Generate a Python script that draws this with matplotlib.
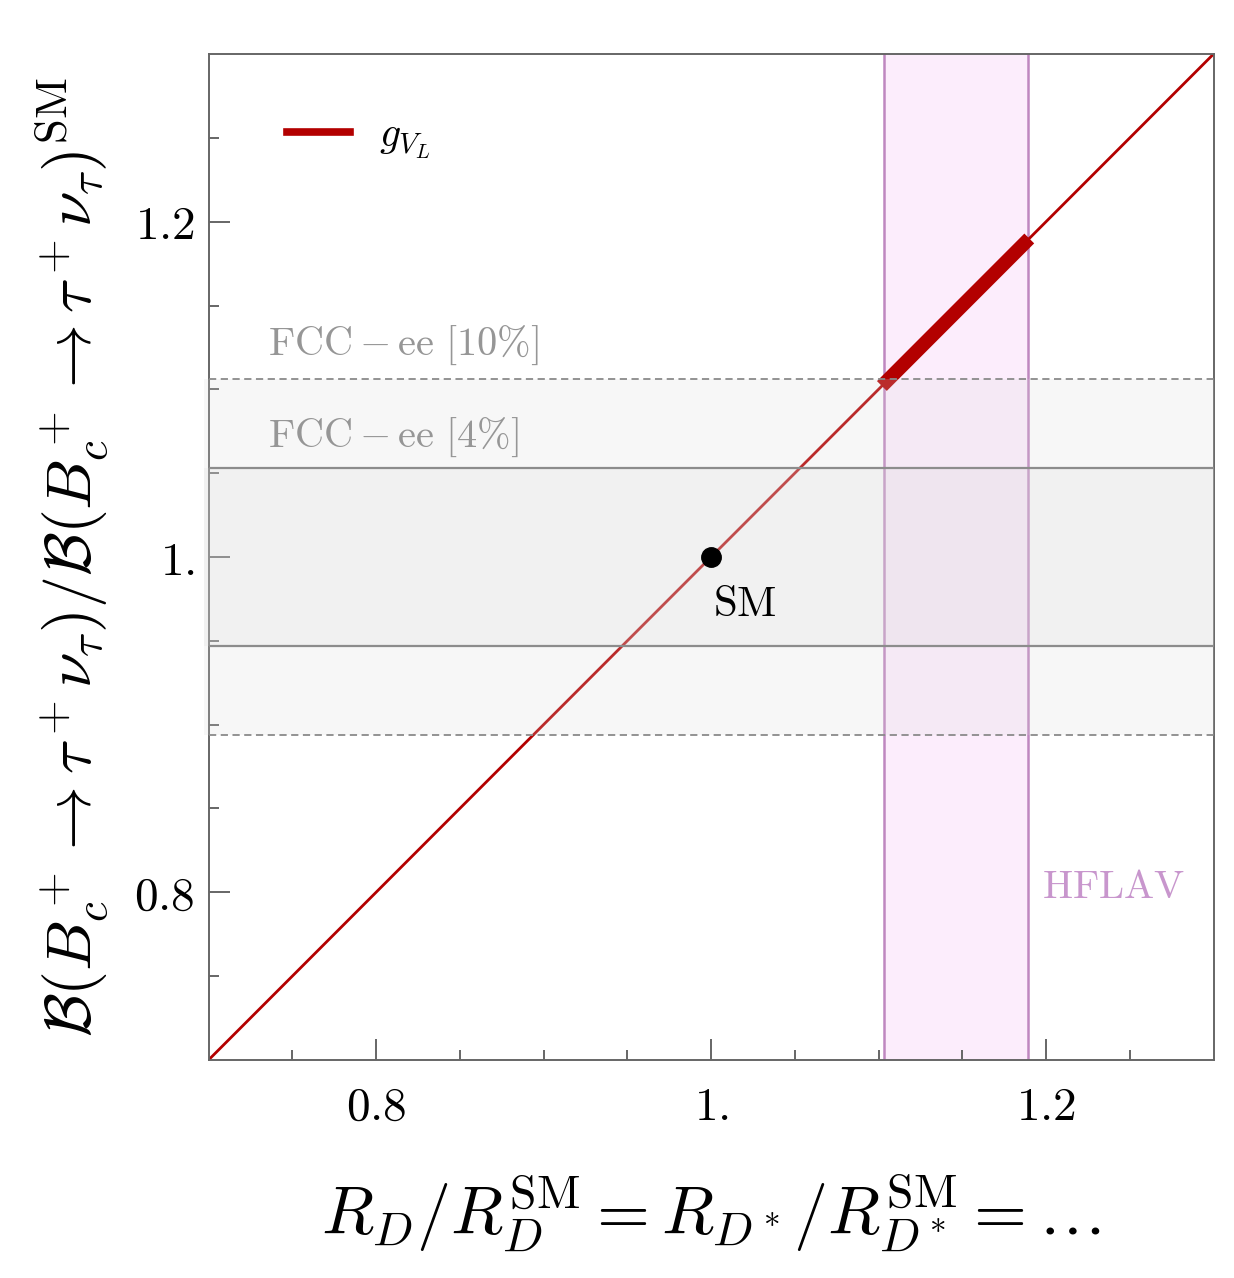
import matplotlib
matplotlib.use("Agg")
import matplotlib.pyplot as plt
from matplotlib.lines import Line2D

plt.rcParams['mathtext.fontset'] = 'cm'
plt.rcParams['font.family'] = ['DejaVu Serif']

# ---- data ----
diag_x = [0.7, 1.3]
diag_y = [0.7, 1.3]
fit_x = [1.102, 1.19]
fit_y = [1.102, 1.19]
hflav_range = [1.103, 1.189]
fcc10_range = [0.894, 1.106]
fcc4_range = [0.947, 1.053]
sm_point = (1.0, 1.0)
xticks_major = [0.8, 1.0, 1.2]
xtick_labels = ['0.8', '1.', '1.2']
yticks_major = [0.8, 1.0, 1.2]
ytick_labels = ['0.8', '1.', '1.2']
minor_ticks = [0.75, 0.85, 0.9, 0.95, 1.05, 1.1, 1.15, 1.25]

red = '#b30000'
band_col = (0.85, 0.85, 0.85)
pink_fill = '#fcedfc'
purple = '#bf87c0'

fig = plt.figure(figsize=(12.34, 12.78), dpi=100)
ax = fig.add_axes([0.169, 0.1706, 0.8144, 0.7871])
ax.set_xlim(0.7, 1.3)
ax.set_ylim(0.7, 1.3)

# HFLAV band
ax.axvspan(hflav_range[0], hflav_range[1], color=pink_fill, lw=0, zorder=1)
for v in hflav_range:
    ax.axvline(v, color=purple, lw=1.8, zorder=1.5)

# diagonal and fit segment
ax.plot(diag_x, diag_y, color=red, lw=2.0, zorder=2)
ax.plot(fit_x, fit_y, color=red, lw=10, solid_capstyle='butt', zorder=2.1)

# FCC bands (overlaid)
ax.axhspan(fcc10_range[0], fcc10_range[1], xmin=-0.005, xmax=1, color=band_col,
           alpha=0.2, lw=0, zorder=3, clip_on=False)
ax.axhspan(fcc4_range[0], fcc4_range[1], xmin=-0.005, xmax=1, color=band_col,
           alpha=0.2, lw=0, zorder=3, clip_on=False)
for v in fcc10_range:
    ax.axhline(v, color='#8a8a8a', lw=1.3, ls=(0, (4, 2.5)), zorder=4)
for v in fcc4_range:
    ax.axhline(v, color='#8c8c8c', lw=1.6, zorder=4)

# SM point
ax.plot([sm_point[0]], [sm_point[1]], 'o', color='black', ms=14, zorder=5)
ax.text(1.02, 0.972, r'$\mathrm{SM}$', fontsize=31, ha='center', va='center', zorder=6)

# texts
ax.text(0.7355, 1.1264, r'$\mathrm{FCC-ee}\ [10\%]$', fontsize=29, color='#969696',
        ha='left', va='center', zorder=6)
ax.text(0.7355, 1.0716, r'$\mathrm{FCC-ee}\ [4\%]$', fontsize=29, color='#969696',
        ha='left', va='center', zorder=6)
ax.text(1.2401, 0.8026, r'$\mathrm{HFLAV}$', fontsize=29, color='#c896cd',
        ha='center', va='center', zorder=6)

# legend
h = Line2D([], [], color=red, lw=5.5)
leg = ax.legend([h], [r'$g_{V_L}$'], loc='upper left', bbox_to_anchor=(0.041, 0.978),
                frameon=False, fontsize=30, handlelength=1.5, handletextpad=0.7)

# ticks
ax.set_xticks(xticks_major)
ax.set_xticklabels([f'${t}$' for t in xtick_labels])
ax.set_yticks(yticks_major)
ax.set_yticklabels([f'${t}$' for t in ytick_labels])
ax.set_xticks(minor_ticks, minor=True)
ax.set_yticks(minor_ticks, minor=True)
ax.tick_params(which='both', direction='in', color='#666666', width=1.4,
               labelsize=34, top=False, right=False)
ax.tick_params(which='major', length=15)
ax.tick_params(which='minor', length=7)
ax.tick_params(axis='x', pad=18)
ax.tick_params(axis='y', pad=10)
for s in ax.spines.values():
    s.set_color('#666666')
    s.set_linewidth(1.4)

ax.set_xlabel(r'$R_D/R_D^{\mathrm{SM}} = R_{D^*}/R_{D^*}^{\mathrm{SM}} = \ldots$',
              fontsize=49, labelpad=30)
ax.set_ylabel(r'$\mathcal{B}(B_c^+\to\tau^+\nu_\tau)/\mathcal{B}(B_c^+\to\tau^+\nu_\tau)^{\mathrm{SM}}$',
              fontsize=46, labelpad=16)

fig.savefig('out.png', dpi=100)
